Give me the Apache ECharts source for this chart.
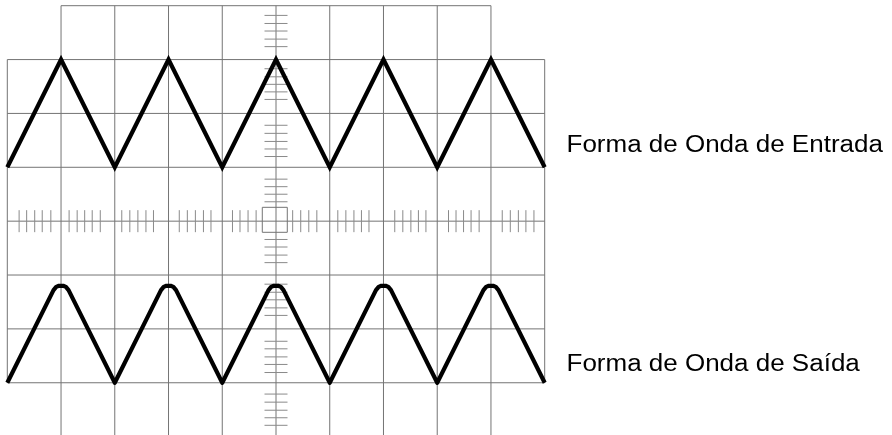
<!DOCTYPE html>
<html>
<head>
<meta charset="utf-8">
<script src="https://cdn.jsdelivr.net/npm/echarts@6/dist/echarts.min.js"></script>
<style>
html,body{margin:0;padding:0;background:#fff;}
#chart{width:892px;height:435px;}
</style>
</head>
<body>
<div id="chart"></div>
<script>
// Graticule divisions (x: 0..10, y: 0..8)
const gridXs = [0,1,2,3,4,5,6,7,8,9,10];
const gridYs = [0,1,2,3,4,5,6,7,8];

// Minor ticks on the central vertical axis (y positions, in divisions)
const vTickYs = [7.82,7.67,7.53,7.38,7.24, 6.83,6.68,6.54,6.40,6.26, 5.78,5.63,5.48,5.34,5.20,
  4.78,4.64,4.50,4.36, 3.66,3.52,3.37,3.23, 2.83,2.68,2.54,2.39,2.25,
  1.77,1.63,1.48,1.34,1.19, 0.79,0.64,0.49,0.35,0.21];
// Minor ticks on the central horizontal axis (x positions, in divisions)
const hTickXs = [0.22,0.36,0.51,0.65,0.81, 1.15,1.30,1.44,1.58,1.73, 2.13,2.28,2.43,2.58,2.72,
  3.20,3.35,3.50,3.65,3.79, 4.19,4.33,4.48,4.63, 5.31,5.46,5.61,5.76,
  6.15,6.30,6.45,6.59,6.73, 7.21,7.36,7.51,7.65,7.79, 8.21,8.35,8.49,8.63,8.78, 9.21,9.36,9.51,9.65,9.80];
// Central square [x1, y1, x2, y2]
const centerBox = [4.745, 3.793, 5.21, 4.257];

// Input waveform (Entrada)
const inputX = [0,1,2,3,4,5,6,7,8,9,10];
const inputY = [5,7,5,7,5,7,5,7,5,7,5];

// Output waveform (Saída) - rounded/clipped peaks
const outputX = [0, 0.86,0.91,0.96,1.04,1.09,1.14, 2, 2.86,2.91,2.96,3.04,3.09,3.14, 4,
  4.86,4.91,4.96,5.04,5.09,5.14, 6, 6.86,6.91,6.96,7.04,7.09,7.14, 8,
  8.86,8.91,8.96,9.04,9.09,9.14, 10];
const outputY = [1, 2.72,2.78,2.8,2.8,2.78,2.72, 1, 2.72,2.78,2.8,2.8,2.78,2.72, 1,
  2.72,2.78,2.8,2.8,2.78,2.72, 1, 2.72,2.78,2.8,2.8,2.78,2.72, 1,
  2.72,2.78,2.8,2.8,2.78,2.72, 1];

const labels = ['Forma de Onda de Entrada', 'Forma de Onda de Saída'];

// Build graticule segments, with corner cells left open
const xMax = gridXs[gridXs.length-1], yMax = gridYs[gridYs.length-1];
const gridSegs = [];
gridXs.forEach(x => {
  const edge = (x === 0 || x === xMax);
  gridSegs.push(edge ? [x, 1, x, yMax-1] : [x, 0, x, yMax]);
});
gridYs.forEach(y => {
  const edge = (y === 0 || y === yMax);
  gridSegs.push(edge ? [1, y, xMax-1, y] : [0, y, xMax, y]);
});

const cx = 5, cy = 4;
const chart = echarts.init(document.getElementById('chart'), null, {renderer:'canvas'});
const GRID_COLOR = '#747474';
const TICK_COLOR = '#8a8a8a';

chart.setOption({
  animation: false,
  backgroundColor: '#fff',
  grid: {left: 7.3, top: 5.7, right: 347.3, bottom: 0, containLabel: false},
  xAxis: {type:'value', min:0, max:10, show:false},
  yAxis: {type:'value', min:0.03, max:8, show:false},
  series: [
    {
      type:'custom', silent:true, clip:false,
      data: gridSegs,
      renderItem: (params, api) => {
        const p1 = api.coord([api.value(0), api.value(1)]);
        const p2 = api.coord([api.value(2), api.value(3)]);
        return {type:'line', shape:{x1:p1[0], y1:p1[1], x2:p2[0], y2:p2[1]},
          style:{stroke:GRID_COLOR, lineWidth:1}};
      }
    },
    {
      type:'custom', silent:true, clip:false,
      data: vTickYs.map(y => [cx, y]),
      renderItem: (params, api) => {
        const p = api.coord([api.value(0), api.value(1)]);
        return {type:'line', shape:{x1:p[0]-11.5, y1:p[1], x2:p[0]+11.5, y2:p[1]},
          style:{stroke:TICK_COLOR, lineWidth:1}};
      }
    },
    {
      type:'custom', silent:true, clip:false,
      data: hTickXs.map(x => [x, cy]),
      renderItem: (params, api) => {
        const p = api.coord([api.value(0), api.value(1)]);
        return {type:'line', shape:{x1:p[0], y1:p[1]-11, x2:p[0], y2:p[1]+11},
          style:{stroke:TICK_COLOR, lineWidth:1}};
      }
    },
    {
      type:'custom', silent:true, clip:false,
      data: [centerBox],
      renderItem: (params, api) => {
        const p1 = api.coord([api.value(0), api.value(3)]);
        const p2 = api.coord([api.value(2), api.value(1)]);
        return {type:'rect', shape:{x:p1[0], y:p1[1], width:p2[0]-p1[0], height:p2[1]-p1[1]},
          style:{stroke:GRID_COLOR, fill:null, lineWidth:1}};
      }
    },
    {
      name: labels[0], type:'line', silent:true, showSymbol:false, clip:false,
      data: inputX.map((x,i) => [x, inputY[i]]),
      lineStyle:{color:'#000', width:4.2, join:'miter', cap:'butt'}
    },
    {
      name: labels[1], type:'line', silent:true, showSymbol:false, clip:false,
      data: outputX.map((x,i) => [x, outputY[i]]),
      lineStyle:{color:'#000', width:4.2, join:'round', cap:'butt'}
    }
  ],
  graphic: [
    {type:'text', x:566.5, y:145.5, scaleX:1.13, silent:true,
      style:{text:labels[0], font:'23px "Liberation Sans", Arial, sans-serif', fill:'#000', textVerticalAlign:'middle', verticalAlign:'middle'}},
    {type:'text', x:566.5, y:365, scaleX:1.13, silent:true,
      style:{text:labels[1], font:'23px "Liberation Sans", Arial, sans-serif', fill:'#000', textVerticalAlign:'middle', verticalAlign:'middle'}}
  ]
});
</script>
</body>
</html>
